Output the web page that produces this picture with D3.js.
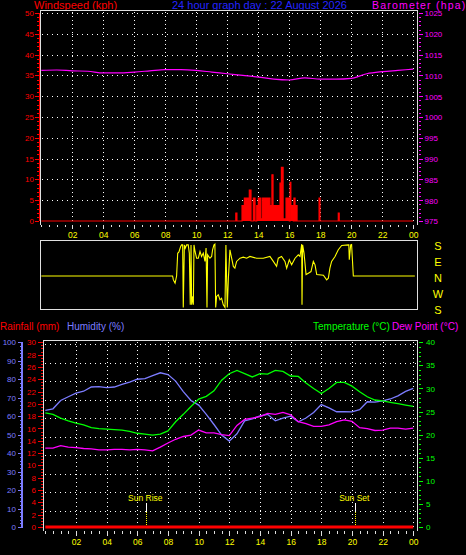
<!DOCTYPE html>
<html><head><meta charset="utf-8">
<script src="https://cdn.jsdelivr.net/npm/d3@7"></script>
<style>
html,body{margin:0;padding:0;background:#000;overflow:hidden}
svg{display:block;font-family:"Liberation Sans",Arial,sans-serif}
</style>
</head><body>
<svg id="c" width="466" height="555"></svg>
<script>
// ---------------- DATA ----------------
const titleText = "24 hour graph day : 22 August 2026";
const hourTicks  = [2,4,6,8,10,12,14,16,18,20,22,24];
const hourLabels = ["02","04","06","08","10","12","14","16","18","20","22","00"];

const windTicks = [0,5,10,15,20,25,30,35,40,45,50];
const baroTicks = [975,980,985,990,995,1000,1005,1010,1015,1020,1025];
const rainTicks = [0,2,4,6,8,10,12,14,16,18,20,22,24,26,28,30];
const humTicks  = [0,10,20,30,40,50,60,70,80,90,100];
const tempTicks = [0,5,10,15,20,25,30,35,40];
const compassLabels = ["S","E","N","W","S"];
const compassValues = [180,90,0,-90,-180];

// barometer (hourly)
const baroHours  = [0,1,2,3,4,5,6,7,8,9,10,11,12,13,14,15,16,17,18,19,20,21,22,23,24];
const baroValues = [1011.2,1011.3,1011.1,1011.0,1010.6,1010.6,1010.8,1011.1,1011.4,1011.4,1011.2,1010.8,
                    1010.4,1010.0,1009.6,1009.1,1008.9,1009.4,1009.1,1009.1,1009.3,1010.4,1010.9,1011.2,1011.5];

// wind speed samples (step)
const windTimes  = [0,12.55,12.62,12.95,13.1,13.42,13.53,13.68,13.79,13.9,14.0,14.17,14.28,14.75,14.88,14.95,
                    15.4,15.49,15.6,15.79,16.0,16.05,16.1,16.26,16.3,16.37,16.43,16.5,17.92,17.98,19.16,19.22,24];
const windSpeeds = [0,1.9,0,3.7,5.5,7.4,0,5.5,0,3.7,5.5,0.5,5.5,3.7,11.1,3.7,
                    9.1,12.9,0.5,5.5,0,9.3,3.7,0,5.5,0,3.7,0,5.5,0,1.9,0,0];

// wind direction (compass bearing, degrees)
const dirTimes = [0,8.47,8.52,8.63,8.73,8.8,8.88,8.99,9.05,9.12,9.16,9.23,9.29,9.38,9.48,9.55,9.61,9.66,9.7,9.77,9.81,
                  9.85,9.92,10.02,10.13,10.24,10.34,10.45,10.56,10.63,10.69,10.73,10.88,10.99,11.05,11.14,11.2,11.25,
                  11.31,11.42,11.53,11.63,11.74,11.85,11.91,11.96,12.0,12.07,12.17,12.28,12.39,12.49,12.6,12.82,13.03,
                  13.25,13.46,13.89,14.32,14.75,14.97,15.18,15.29,15.5,15.72,15.83,16.0,16.15,16.37,16.58,16.69,16.8,
                  16.82,16.86,16.95,17.08,17.23,17.4,17.55,17.66,17.77,18.2,18.41,18.52,18.62,18.73,18.95,19.16,19.38,
                  19.81,19.84,19.87,19.96,20.02,20.13,24.1];
const dirBearings = [0,0,338,320,0,128,135,166,175,175,183,175,157,175,175,129,198,175,198,245,198,
                     175,138,100,100,138,110,129,82,157,183,119,100,110,147,175,179,183,
                     245,254,226,235,198,183,175,329,183,348,147,100,54,44,82,100,106,
                     100,110,100,100,110,82,54,100,110,82,44,91,63,100,119,110,179,
                     198,175,129,8,16,25,82,63,8,4,338,348,44,82,110,148,172,
                     175,175,91,175,177,0,0];

// bottom chart (half-hourly)
const halfHours = [0,0.5,1,1.5,2,2.5,3,3.5,4,4.5,5,5.5,6,6.5,7,7.5,8,8.5,9,9.5,10,10.5,11,11.5,12,
                   12.5,13,13.5,14,14.5,15,15.5,16,16.5,17,17.5,18,18.5,19,19.5,20,20.5,21,21.5,22,22.5,23,23.5,24];
const humidity = [63.2,64,68.5,70.5,72.5,73.5,75.8,76,75.5,75.8,77.2,78.5,80,80.3,82,83.5,82.5,79,73.3,68.5,66,61,55.5,49.8,46.5,
                  50.5,57.5,58.5,60.1,61,57.5,59,60,57,59,62,66.3,64.5,62.4,62.4,62.3,63.5,67.8,67.6,68.3,69.3,71,73.4,75];
const temperature = [24.7,24.4,23.6,23.0,22.5,22.1,21.5,21.3,21.2,21.1,21.0,20.7,20.3,20.1,19.9,20.1,20.8,22.8,24.4,26.1,27.7,28.3,29.5,31.8,33.2,
                     33.9,33.2,32.5,33.2,33.1,33.9,33.7,32.7,32.6,31.2,30.0,28.9,30.0,31.3,31.3,30.5,29.3,28.2,27.5,27.3,27.0,26.7,26.4,26.1];
const dewPoint = [17.1,17.1,17.6,17.3,17.2,17.0,16.9,16.7,16.7,16.8,16.8,16.7,16.8,16.7,16.5,17.3,18.2,19.0,19.6,19.9,21.0,20.4,20.4,20.0,19.8,
                  22.0,23.3,23.6,23.9,24.6,24.4,24.8,24.3,22.8,22.4,21.8,21.8,22.1,22.8,23.2,22.9,21.5,21.3,20.9,21.0,21.4,21.4,21.2,21.4];
const rainHours  = [0,24];
const rainValues = [0,0];

const sunLabels = ["Sun Rise","Sun Set"];
const sunHours  = [6.59,20.22];

// ---------------- COLOURS ----------------
const RED="#ff0000", MAG="#ff00ff", GRN="#00ff00", YEL="#ffff00", HUM="#7c7cff", BLUE="#2424ff", BOX="#e0e0e0";
const FONT = '"Liberation Sans", Arial, sans-serif';

const svg = d3.select("#c");
svg.append("rect").attr("width",466).attr("height",555).attr("fill","#000");

// ---------------- SCALES ----------------
const xTop  = d3.scaleLinear([0,24],[41.3,413.3]);
const yWind = d3.scaleLinear([0,50],[221,13]);
const yBaro = d3.scaleLinear([975,1025],[221,13]);
const yDir  = d3.scaleLinear([-180,180],[308,244]);
const xBot  = d3.scaleLinear([0,24],[45.3,413.3]);
const yRain = d3.scaleLinear([0,30],[527,342.3]);
const yHum  = d3.scaleLinear([0,100],[527,342.3]);
const yTemp = d3.scaleLinear([0,40],[527,342.3]);

function styleAxis(g, color, size){
  g.attr("color", color).attr("font-family", FONT).attr("font-size", size||8)
   .attr("shape-rendering","crispEdges");
  return g;
}
function minorTicks(lo, hi, step){ const a=[]; for(let v=lo; v<=hi+1e-9; v+=step) a.push(+v.toFixed(3)); return a; }

// ---------------- TITLES ----------------
const titles = svg.append("g").attr("font-family", FONT);
titles.append("text").attr("x",34).attr("y",9).attr("font-size",11).attr("fill",RED).text("Windspeed (kph)");
titles.append("text").attr("x",172).attr("y",9).attr("font-size",11).attr("fill",BLUE).text(titleText);
titles.append("text").attr("x",372).attr("y",8.5).attr("font-size",10.5).attr("fill",MAG).attr("letter-spacing",1.2).text("Barometer (hpa)");
titles.append("text").attr("x",0).attr("y",330).attr("font-size",10).attr("fill",RED).text("Rainfall (mm)");
titles.append("text").attr("x",67).attr("y",330).attr("font-size",10).attr("fill",HUM).text("Humidity (%)");
titles.append("text").attr("x",313).attr("y",330).attr("font-size",10).attr("fill",GRN).text("Temperature (°C)");
titles.append("text").attr("x",392).attr("y",330).attr("font-size",10).attr("fill",MAG).text("Dew Point (°C)");

// ---------------- TOP CHART ----------------
const topG = svg.append("g");
const gridT = topG.append("g").attr("stroke","#fff").attr("stroke-width",1).attr("stroke-dasharray","1,4").attr("shape-rendering","crispEdges");
gridT.selectAll("line.h").data(windTicks.filter(d=>d>0)).join("line").attr("class","h")
  .attr("x1",42).attr("x2",417).attr("y1",d=>Math.round(yWind(d))+0.5).attr("y2",d=>Math.round(yWind(d))+0.5);
gridT.selectAll("line.v").data(hourTicks).join("line").attr("class","v").attr("stroke-dasharray","1,3")
  .attr("x1",d=>Math.round(xTop(d))+0.5).attr("x2",d=>Math.round(xTop(d))+0.5).attr("y1",12).attr("y2",224);

// barometer
const baroData = baroHours.map((h,i)=>({h, v:baroValues[i]}));
topG.append("path").datum(baroData).attr("fill","none").attr("stroke",MAG).attr("stroke-width",1.2)
  .attr("d", d3.line().x(d=>xTop(d.h)).y(d=>yBaro(d.v)).curve(d3.curveMonotoneX));

// wind speed area
const windData = windTimes.map((h,i)=>({h, v:windSpeeds[i]}));
topG.append("path").datum(windData).attr("fill",RED)
  .attr("d", d3.area().x(d=>xTop(d.h)).y0(yWind(0)).y1(d=>yWind(d.v)).curve(d3.curveStepAfter));
topG.append("path").datum(windData).attr("fill","none").attr("stroke",RED).attr("stroke-width",1.2)
  .attr("d", d3.line().x(d=>xTop(d.h)).y(d=>yWind(d.v)).curve(d3.curveStepAfter));

// box
topG.append("path").attr("fill","none").attr("stroke",BOX).attr("stroke-width",1).attr("shape-rendering","crispEdges")
  .attr("d","M40.5,224.5V10.5H417.5V224.5");

// left wind axis
styleAxis(topG.append("g").attr("transform","translate(39,0)")
  .call(d3.axisLeft(yWind).tickValues(minorTicks(0,50,1)).tickSize(2).tickFormat("")), RED)
  .select(".domain").remove();
styleAxis(topG.append("g").attr("transform","translate(39,0)")
  .call(d3.axisLeft(yWind).tickValues(windTicks).tickSize(4).tickPadding(1).tickFormat(d3.format("d"))), RED)
  .select(".domain").attr("d","M0,13V221");
// right baro axis
styleAxis(topG.append("g").attr("transform","translate(418.5,0)")
  .call(d3.axisRight(yBaro).tickValues(minorTicks(975,1025,1)).tickSize(2).tickFormat("")), MAG)
  .select(".domain").remove();
const baroAx = styleAxis(topG.append("g").attr("transform","translate(418.5,0)")
  .call(d3.axisRight(yBaro).tickValues(baroTicks).tickSize(4).tickPadding(2).tickFormat(d3.format("d"))), MAG);
baroAx.select(".domain").remove();
baroAx.selectAll("text").attr("dy","0.36em");
// time axis (top chart)
const xAxT = topG.append("g").attr("transform","translate(0,224.5)");
xAxT.append("g").call(d3.axisBottom(xTop).tickValues(minorTicks(0,24,0.5)).tickSize(2).tickFormat(""))
  .attr("color",BOX).attr("shape-rendering","crispEdges").select(".domain").remove();
const xAxTL = xAxT.append("g").call(d3.axisBottom(xTop).tickValues(hourTicks).tickSize(4).tickPadding(3.5).tickFormat((d,i)=>hourLabels[i]));
xAxTL.attr("color",BOX).attr("font-family",FONT).attr("font-size",8.5).attr("shape-rendering","crispEdges");
xAxTL.select(".domain").remove();
xAxTL.selectAll("text").attr("fill",YEL);

// ---------------- WIND DIRECTION ----------------
const dirG = svg.append("g");
dirG.append("rect").attr("x",40.5).attr("y",240.5).attr("width",377).attr("height",69)
  .attr("fill","none").attr("stroke",BOX).attr("shape-rendering","crispEdges");
const dirData = dirTimes.map((h,i)=>({h, v: dirBearings[i] > 180 ? dirBearings[i]-360 : dirBearings[i]}));
dirG.append("path").datum(dirData).attr("fill","none").attr("stroke",YEL).attr("stroke-width",1.1)
  .attr("d", d3.line().x(d=>xTop(d.h)).y(d=>yDir(d.v)));
dirG.selectAll("text").data(compassValues).join("text")
  .attr("x",438).attr("y",d=>yDir(d)+5.5).attr("text-anchor","middle")
  .attr("font-family",FONT).attr("font-size",11).attr("fill",YEL).text((d,i)=>compassLabels[i]);

// ---------------- BOTTOM CHART ----------------
const bot = svg.append("g");
const gridB = bot.append("g").attr("stroke","#fff").attr("stroke-width",1).attr("stroke-dasharray","1,4").attr("shape-rendering","crispEdges");
gridB.selectAll("line.h").data(humTicks.filter(d=>d>0)).join("line").attr("class","h")
  .attr("x1",45).attr("x2",417).attr("y1",d=>Math.round(yHum(d))+2.5).attr("y2",d=>Math.round(yHum(d))+2.5);
gridB.selectAll("line.v").data(hourTicks).join("line").attr("class","v").attr("stroke-dasharray","1,3")
  .attr("x1",d=>Math.round(xBot(d))+0.5).attr("x2",d=>Math.round(xBot(d))+0.5).attr("y1",342).attr("y2",530);

const lineB = (yS)=> d3.line().x(d=>xBot(d.h)).y(d=>yS(d.v));
const humData  = halfHours.map((h,i)=>({h, v:humidity[i]}));
const tempData = halfHours.map((h,i)=>({h, v:temperature[i]}));
const dewData  = halfHours.map((h,i)=>({h, v:dewPoint[i]}));
const rainData = rainHours.map((h,i)=>({h, v:rainValues[i]}));

bot.append("path").datum(humData).attr("fill","none").attr("stroke",HUM).attr("stroke-width",1.3).attr("d",lineB(yHum));
bot.append("path").datum(tempData).attr("fill","none").attr("stroke",GRN).attr("stroke-width",1.3).attr("d",lineB(yTemp));
bot.append("path").datum(dewData).attr("fill","none").attr("stroke",MAG).attr("stroke-width",1.3).attr("d",lineB(yTemp));

// sun markers
const sunG = bot.selectAll("g.sun").data(sunHours).join("g").attr("class","sun");
sunG.append("line").attr("x1",d=>Math.round(xBot(d))+0.5).attr("x2",d=>Math.round(xBot(d))+0.5)
  .attr("y1",503).attr("y2",512).attr("stroke","#fff").attr("shape-rendering","crispEdges");
sunG.append("line").attr("x1",d=>Math.round(xBot(d))+0.5).attr("x2",d=>Math.round(xBot(d))+0.5)
  .attr("y1",512).attr("y2",526).attr("stroke",YEL).attr("stroke-dasharray","1,1").attr("shape-rendering","crispEdges");
sunG.append("text").attr("x",d=>xBot(d)-1).attr("y",501).attr("text-anchor","middle")
  .attr("font-family",FONT).attr("font-size",8.5).attr("fill",YEL).text((d,i)=>sunLabels[i]);

// rainfall
bot.append("path").datum(rainData).attr("fill","none").attr("stroke",RED).attr("stroke-width",3).attr("d",lineB(yRain));

// box
bot.append("path").attr("fill","none").attr("stroke",BOX).attr("shape-rendering","crispEdges")
  .attr("d","M43.5,530.5V340.5H417.5V530.5");

// humidity axis
styleAxis(bot.append("g").attr("transform","translate(22,0)")
  .call(d3.axisLeft(yHum).tickValues(minorTicks(0,100,2)).tickSize(2).tickFormat("")), HUM)
  .select(".domain").remove();
const hAx = styleAxis(bot.append("g").attr("transform","translate(22,0)")
  .call(d3.axisLeft(yHum).tickValues(humTicks).tickSize(4).tickPadding(2).tickFormat(d3.format("d"))), HUM);
hAx.select(".domain").attr("d","M0,342V528").attr("stroke-width",2);
// rain axis
styleAxis(bot.append("g").attr("transform","translate(42.5,0)")
  .call(d3.axisLeft(yRain).tickValues(minorTicks(0,30,0.5)).tickSize(1.5).tickFormat("")), RED)
  .select(".domain").remove();
styleAxis(bot.append("g").attr("transform","translate(42.5,0)")
  .call(d3.axisLeft(yRain).tickValues(rainTicks).tickSize(5).tickPadding(1.5).tickFormat(d3.format("d"))), RED)
  .select(".domain").remove();
// temperature axis
styleAxis(bot.append("g").attr("transform","translate(418.5,0)")
  .call(d3.axisRight(yTemp).tickValues(minorTicks(0,40,1)).tickSize(2).tickFormat("")), GRN)
  .select(".domain").remove();
styleAxis(bot.append("g").attr("transform","translate(418.5,0)")
  .call(d3.axisRight(yTemp).tickValues(tempTicks).tickSize(4).tickPadding(3.5).tickFormat(d3.format("d"))), GRN)
  .select(".domain").remove();
// time axis
const xAxB = bot.append("g").attr("transform","translate(0,530.5)");
xAxB.append("g").call(d3.axisBottom(xBot).tickValues(minorTicks(0,24,0.5)).tickSize(3).tickFormat(""))
  .attr("color",BOX).attr("shape-rendering","crispEdges").select(".domain").remove();
const xAxBL = xAxB.append("g").call(d3.axisBottom(xBot).tickValues(hourTicks).tickSize(5).tickPadding(3).tickFormat((d,i)=>hourLabels[i]));
xAxBL.attr("color",BOX).attr("font-family",FONT).attr("font-size",8.5).attr("shape-rendering","crispEdges");
xAxBL.select(".domain").remove();
xAxBL.selectAll("text").attr("fill",YEL);
</script>
</body></html>
